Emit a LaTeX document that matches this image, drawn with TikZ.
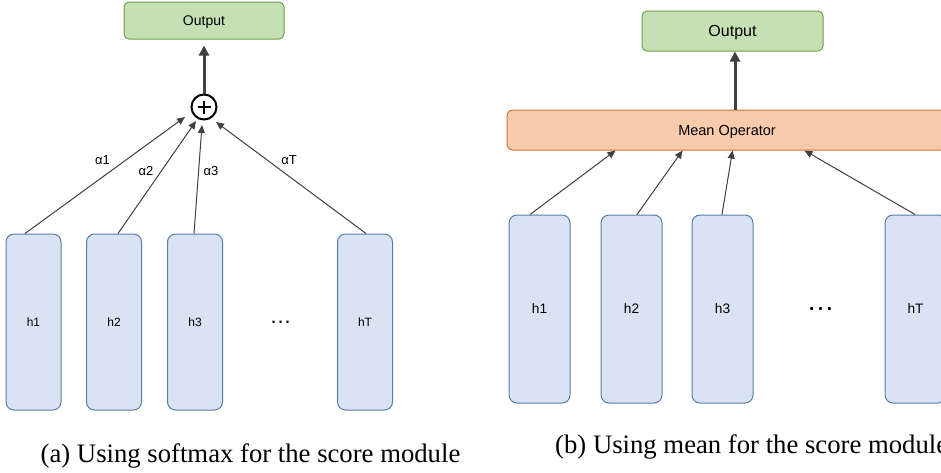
\documentclass[tikz,border=0pt]{standalone}
\usepackage{fontspec}
\setmainfont{Liberation Serif}
\setsansfont{Liberation Sans}
\usetikzlibrary{arrows.meta,calc}
\definecolor{hfill}{HTML}{DAE3F3}
\definecolor{hdraw}{HTML}{5A7DA6}
\definecolor{gfill}{HTML}{C6E0B4}
\definecolor{gdraw}{HTML}{6E9E50}
\definecolor{ofill}{HTML}{F8CBAD}
\definecolor{odraw}{HTML}{D2752F}
\definecolor{arrcol}{HTML}{404040}
\tikzset{
  hbox/.style={draw=hdraw, fill=hfill, line width=1pt, rounded corners=8pt, inner sep=0pt, font=\sffamily},
  outbox/.style={draw=gdraw, fill=gfill, line width=1pt, rounded corners=5pt, inner sep=0pt, text depth=0pt, font=\sffamily},
  meanbox/.style={draw=odraw, fill=ofill, line width=1pt, rounded corners=6pt, inner sep=0pt, text depth=0pt, font=\sffamily},
  thinarr/.style={draw=arrcol, line width=1pt, -{Triangle[length=8pt,width=7pt]}},
  thickarr/.style={draw=arrcol, line width=3pt, -{Triangle[length=10pt,width=10pt]}},
  alab/.style={font=\sffamily\fontsize{13}{15}\selectfont, inner sep=0pt},
  captext/.style={font=\fontsize{26.7}{30}\selectfont, inner sep=0pt},
}
\begin{document}
\begin{tikzpicture}[x=1pt,y=-1pt]
\useasboundingbox (0,0) rectangle (941,472);
\clip (0,0) rectangle (941,472);
\fill[white] (0,0) rectangle (941,472);

% ---------------- (a) ----------------
\node[outbox, minimum width=160pt, minimum height=37pt, font=\sffamily\fontsize{14}{16}\selectfont] (outA) at (204,20.5) {Output};
\node[circle, draw=black, line width=2pt, minimum size=25pt, inner sep=0pt] (plus) at (204,107) {};
\draw[line width=2pt] ($(plus.center)+(-6.5,0)$) -- ($(plus.center)+(6.5,0)$);
\draw[line width=2pt] ($(plus.center)+(0,-6.5)$) -- ($(plus.center)+(0,6.5)$);

\foreach \n/\x/\t in {ha1/33.5/h1, ha2/114/h2, ha3/195/h3, haT/365/hT}{
  \node[hbox, minimum width=55pt, minimum height=176pt, font=\sffamily\fontsize{12}{14}\selectfont] (\n) at (\x,322) {\t};
}
\node[font=\sffamily\fontsize{22}{24}\selectfont, inner sep=0pt, anchor=base] (dotsA) at (280.5,323.5) {…};

\coordinate (eA1) at (185,117);
\coordinate (eA2) at (196,121);
\coordinate (eA3) at (202,125);
\coordinate (eAT) at (216,122);
\draw[thinarr] ([xshift=-8.5pt]ha1.north) -- (eA1);
\draw[thinarr] ([xshift=4pt]ha2.north) -- (eA2);
\draw[thinarr] ([xshift=-1pt]ha3.north) -- (eA3);
\draw[thinarr] ([xshift=1pt]haT.north) -- (eAT);
\draw[thickarr, shorten >=6pt] (plus.north) -- (outA.south);

\node[alab] (la1) at (102.5,160) {α1};
\node[alab] (la2) at (146,171) {α2};
\node[alab] (la3) at (211,171) {α3};
\node[alab] (laT) at (289,160) {αT};

\node[captext, anchor=base] (capA) at (250.5,462) {(a) Using softmax for the score module};

% ---------------- (b) ----------------
\node[outbox, minimum width=181pt, minimum height=40pt, font=\sffamily\fontsize{16}{18}\selectfont] (outB) at (732.5,31) {Output};
\node[meanbox, minimum width=440pt, minimum height=40pt, font=\sffamily\fontsize{14.5}{17}\selectfont] (mean) at (727,130) {Mean Operator};

\foreach \n/\x/\t in {hb1/539.5/h1, hb2/631.5/h2, hb3/722.5/h3, hbT/915.5/hT}{
  \node[hbox, minimum width=61pt, minimum height=188pt, font=\sffamily\fontsize{13.7}{16}\selectfont] (\n) at (\x,309) {\t};
}
\node[font=\sffamily\fontsize{28}{30}\selectfont, inner sep=0pt, anchor=base] (dotsB) at (820.5,310.5) {…};

\draw[thinarr] ([xshift=-9.5pt]hb1.north) -- ($(mean.south west)+(109,0)$);
\draw[thinarr] ([xshift=5.5pt]hb2.north) -- ($(mean.south west)+(176,0)$);
\draw[thinarr] ([xshift=-0.5pt]hb3.north) -- ($(mean.south west)+(226,0)$);
\draw[thinarr] ([xshift=-0.5pt]hbT.north) -- ($(mean.south west)+(298,0)$);
\draw[thickarr] ([xshift=8pt]mean.north) -- ([xshift=2.5pt]outB.south);

\node[captext, anchor=base west] (capB) at (555,453) {(b) Using mean for the score module};
\end{tikzpicture}
\end{document}
